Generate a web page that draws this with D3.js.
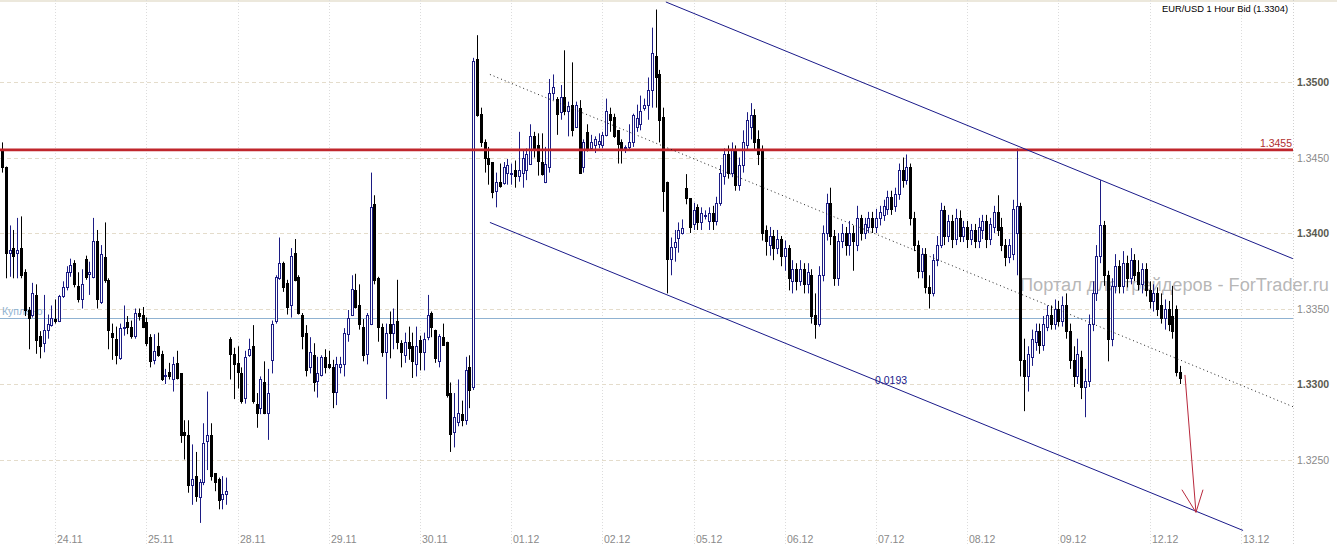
<!DOCTYPE html>
<html><head><meta charset="utf-8">
<script src="https://cdn.jsdelivr.net/npm/d3@7"></script>
<style>body{margin:0;background:#fff}svg{display:block}</style>
</head><body>
<svg id="c" width="1337" height="546"></svg>
<script>
// ---- data ----
const title = "EUR/USD 1 Hour Bid (1.3304)";
const dayLabels = ["24.11","25.11","28.11","29.11","30.11","01.12","02.12","05.12","06.12","07.12","08.12","09.12","12.12","13.12"];
const firstDayStart = 14;      // bar index where 24.11 begins
const barsPerDay = 24;
const priceTicks = [1.3250,1.3300,1.3350,1.3400,1.3450,1.3500];
const majorTicks = [1.3300,1.3400,1.3500];
const resistance = 1.3455;
const bought = 1.3344;
const boughtLabel = "Куплено";
const channelUpper = [[174.7,1.3553],[339.7,1.3383]];
const channelLower = [[128.4,1.3407],[326.6,1.3203]];
const channelMid   = [[128.4,1.3505],[339.7,1.3285]];
const channelWidthLabel = "0.0193";
const arrowLine = [[311.3,1.3306],[314.2,1.3215]];
const arrowHeadL = [[310.5,1.3230],[314.2,1.3215]];
const arrowHeadR = [[316.05,1.3230],[314.2,1.3215]];
const watermark = "Портал для трейдеров - ForTrader.ru";
// [open, high, low, close]
const ohlc = [
[1.3455,1.3460,1.3440,1.3444],[1.3444,1.3444,1.3370,1.3387],[1.3387,1.3405,1.3371,1.3389],[1.3390,1.3402,1.3370,1.3385],
[1.3387,1.3410,1.3370,1.3389],[1.3390,1.3411,1.3370,1.3372],[1.3374,1.3376,1.3345,1.3349],[1.3349,1.3351,1.3323,1.3344],
[1.3346,1.3367,1.3344,1.3360],[1.3359,1.3366,1.3320,1.3329],[1.3332,1.3335,1.3317,1.3325],[1.3327,1.3359,1.3321,1.3336],
[1.3336,1.3346,1.3330,1.3340],[1.3339,1.3352,1.3338,1.3344],[1.3343,1.3356,1.3340,1.3342],[1.3342,1.3359,1.3341,1.3358],
[1.3358,1.3368,1.3357,1.3364],[1.3364,1.3378,1.3362,1.3374],[1.3374,1.3383,1.3371,1.3379],[1.3380,1.3382,1.3364,1.3366],
[1.3365,1.3374,1.3354,1.3356],[1.3356,1.3376,1.3350,1.3366],[1.3383,1.3385,1.3369,1.3371],[1.3373,1.3381,1.3359,1.3374],
[1.3371,1.3410,1.3370,1.3395],[1.3395,1.3402,1.3350,1.3356],[1.3354,1.3392,1.3353,1.3386],[1.3384,1.3407,1.3367,1.3369],
[1.3369,1.3370,1.3323,1.3336],[1.3334,1.3340,1.3316,1.3331],[1.3330,1.3338,1.3313,1.3319],[1.3317,1.3340,1.3316,1.3337],
[1.3337,1.3352,1.3332,1.3338],[1.3341,1.3345,1.3333,1.3338],[1.3338,1.3342,1.3330,1.3332],[1.3332,1.3350,1.3330,1.3347],
[1.3347,1.3350,1.3342,1.3345],[1.3346,1.3351,1.3337,1.3338],[1.3341,1.3344,1.3325,1.3327],[1.3331,1.3333,1.3311,1.3315],
[1.3316,1.3333,1.3313,1.3322],[1.3325,1.3334,1.3318,1.3319],[1.3320,1.3322,1.3302,1.3303],[1.3306,1.3310,1.3300,1.3306],
[1.3308,1.3314,1.3303,1.3305],[1.3303,1.3318,1.3295,1.3313],[1.3314,1.3322,1.3303,1.3304],[1.3307,1.3307,1.3261,1.3266],
[1.3268,1.3276,1.3250,1.3266],[1.3266,1.3276,1.3228,1.3233],[1.3233,1.3260,1.3220,1.3237],[1.3239,1.3255,1.3222,1.3226],
[1.3225,1.3237,1.3208,1.3235],[1.3235,1.3274,1.3233,1.3261],[1.3262,1.3295,1.3243,1.3266],[1.3266,1.3274,1.3236,1.3239],
[1.3241,1.3241,1.3229,1.3235],[1.3237,1.3238,1.3217,1.3223],[1.3224,1.3239,1.3217,1.3227],[1.3227,1.3238,1.3220,1.3229],
[1.3330,1.3331,1.3303,1.3320],[1.3320,1.3324,1.3290,1.3313],[1.3314,1.3325,1.3297,1.3308],[1.3307,1.3311,1.3287,1.3289],
[1.3291,1.3322,1.3287,1.3318],[1.3319,1.3330,1.3318,1.3323],[1.3325,1.3339,1.3287,1.3289],[1.3287,1.3294,1.3271,1.3281],
[1.3284,1.3305,1.3280,1.3303],[1.3301,1.3315,1.3280,1.3281],[1.3281,1.3310,1.3263,1.3294],[1.3316,1.3342,1.3307,1.3340],
[1.3342,1.3372,1.3340,1.3371],[1.3370,1.3397,1.3369,1.3380],[1.3380,1.3381,1.3361,1.3364],[1.3367,1.3369,1.3346,1.3351],
[1.3352,1.3390,1.3344,1.3385],[1.3387,1.3396,1.3368,1.3369],[1.3371,1.3372,1.3346,1.3347],[1.3346,1.3347,1.3323,1.3332],
[1.3334,1.3339,1.3305,1.3309],[1.3311,1.3331,1.3307,1.3321],[1.3319,1.3327,1.3295,1.3301],[1.3302,1.3318,1.3291,1.3307],
[1.3306,1.3319,1.3305,1.3318],[1.3318,1.3323,1.3307,1.3311],[1.3313,1.3322,1.3310,1.3311],[1.3311,1.3316,1.3284,1.3295],
[1.3295,1.3318,1.3286,1.3313],[1.3311,1.3318,1.3307,1.3313],[1.3313,1.3337,1.3305,1.3334],[1.3333,1.3349,1.3328,1.3344],
[1.3346,1.3372,1.3345,1.3363],[1.3362,1.3373,1.3350,1.3351],[1.3352,1.3366,1.3336,1.3340],[1.3338,1.3343,1.3315,1.3319],
[1.3320,1.3347,1.3313,1.3346],[1.3340,1.3440,1.3339,1.3417],[1.3419,1.3425,1.3366,1.3369],[1.3370,1.3371,1.3328,1.3338],
[1.3338,1.3340,1.3318,1.3321],[1.3321,1.3340,1.3290,1.3334],[1.3340,1.3348,1.3317,1.3334],[1.3334,1.3350,1.3323,1.3340],
[1.3342,1.3369,1.3323,1.3328],[1.3327,1.3329,1.3311,1.3321],[1.3319,1.3334,1.3314,1.3328],[1.3328,1.3338,1.3316,1.3324],
[1.3325,1.3334,1.3304,1.3315],[1.3313,1.3338,1.3305,1.3325],[1.3329,1.3332,1.3309,1.3321],[1.3321,1.3334,1.3309,1.3330],
[1.3331,1.3359,1.3329,1.3346],[1.3347,1.3348,1.3331,1.3338],[1.3336,1.3336,1.3314,1.3317],[1.3315,1.3333,1.3311,1.3332],
[1.3331,1.3340,1.3326,1.3326],[1.3328,1.3328,1.3291,1.3293],[1.3294,1.3301,1.3255,1.3267],[1.3268,1.3294,1.3258,1.3278],
[1.3275,1.3303,1.3272,1.3281],[1.3280,1.3289,1.3272,1.3276],[1.3276,1.3318,1.3273,1.3309],[1.3311,1.3319,1.3284,1.3296],
[1.3298,1.3516,1.3296,1.3514],[1.3515,1.3531,1.3477,1.3478],[1.3479,1.3483,1.3457,1.3460],[1.3460,1.3462,1.3440,1.3450],
[1.3450,1.3457,1.3432,1.3446],[1.3447,1.3447,1.3423,1.3427],[1.3428,1.3440,1.3417,1.3434],[1.3434,1.3446,1.3430,1.3431],
[1.3433,1.3447,1.3432,1.3444],[1.3440,1.3449,1.3432,1.3445],[1.3440,1.3446,1.3432,1.3440],[1.3442,1.3448,1.3430,1.3438],
[1.3438,1.3467,1.3434,1.3442],[1.3440,1.3455,1.3430,1.3450],[1.3442,1.3456,1.3435,1.3452],[1.3446,1.3472,1.3446,1.3464],
[1.3464,1.3467,1.3450,1.3456],[1.3458,1.3466,1.3438,1.3448],[1.3447,1.3466,1.3438,1.3439],[1.3434,1.3457,1.3433,1.3446],
[1.3444,1.3502,1.3440,1.3493],[1.3493,1.3505,1.3488,1.3497],[1.3489,1.3490,1.3465,1.3479],[1.3480,1.3498,1.3475,1.3490],
[1.3490,1.3521,1.3478,1.3481],[1.3481,1.3487,1.3464,1.3484],[1.3485,1.3513,1.3464,1.3468],[1.3470,1.3487,1.3470,1.3485],
[1.3483,1.3488,1.3440,1.3440],[1.3444,1.3462,1.3440,1.3460],[1.3467,1.3472,1.3454,1.3456],[1.3456,1.3465,1.3455,1.3460],
[1.3458,1.3464,1.3453,1.3462],[1.3459,1.3466,1.3456,1.3461],[1.3458,1.3467,1.3456,1.3465],[1.3465,1.3489,1.3464,1.3481],
[1.3479,1.3483,1.3467,1.3475],[1.3477,1.3479,1.3463,1.3464],[1.3468,1.3468,1.3446,1.3459],[1.3460,1.3462,1.3446,1.3456],
[1.3456,1.3458,1.3453,1.3457],[1.3457,1.3472,1.3455,1.3460],[1.3460,1.3479,1.3457,1.3478],[1.3470,1.3485,1.3467,1.3476],
[1.3472,1.3491,1.3468,1.3481],[1.3483,1.3489,1.3481,1.3485],[1.3485,1.3503,1.3475,1.3495],[1.3495,1.3536,1.3483,1.3519],
[1.3517,1.3548,1.3483,1.3503],[1.3505,1.3508,1.3460,1.3475],[1.3477,1.3483,1.3414,1.3428],[1.3434,1.3434,1.3360,1.3383],
[1.3383,1.3397,1.3372,1.3391],[1.3391,1.3402,1.3381,1.3394],[1.3397,1.3407,1.3387,1.3402],[1.3400,1.3409,1.3399,1.3403],
[1.3430,1.3439,1.3419,1.3423],[1.3423,1.3423,1.3400,1.3404],[1.3406,1.3420,1.3402,1.3415],[1.3417,1.3419,1.3402,1.3407],
[1.3407,1.3417,1.3402,1.3413],[1.3411,1.3415,1.3409,1.3412],[1.3408,1.3417,1.3402,1.3413],[1.3413,1.3418,1.3402,1.3408],
[1.3408,1.3424,1.3405,1.3420],[1.3420,1.3445,1.3418,1.3440],[1.3438,1.3456,1.3432,1.3452],[1.3452,1.3458,1.3436,1.3440],
[1.3440,1.3460,1.3437,1.3455],[1.3455,1.3458,1.3428,1.3432],[1.3432,1.3450,1.3428,1.3445],[1.3445,1.3468,1.3440,1.3460],
[1.3458,1.3480,1.3455,1.3475],[1.3470,1.3486,1.3462,1.3478],[1.3478,1.3482,1.3455,1.3460],[1.3462,1.3468,1.3445,1.3452],
[1.3455,1.3458,1.3395,1.3400],[1.3402,1.3405,1.3385,1.3395],[1.3392,1.3404,1.3385,1.3398],[1.3398,1.3402,1.3382,1.3390],
[1.3390,1.3402,1.3386,1.3396],[1.3396,1.3398,1.3378,1.3385],[1.3385,1.3395,1.3375,1.3390],[1.3390,1.3392,1.3362,1.3370],
[1.3368,1.3382,1.3360,1.3376],[1.3376,1.3380,1.3362,1.3368],[1.3368,1.3382,1.3365,1.3376],[1.3376,1.3380,1.3360,1.3366],
[1.3366,1.3380,1.3360,1.3374],[1.3372,1.3376,1.3340,1.3345],[1.3346,1.3360,1.3330,1.3340],[1.3340,1.3378,1.3338,1.3372],
[1.3372,1.3405,1.3368,1.3400],[1.3400,1.3426,1.3395,1.3420],[1.3420,1.3430,1.3392,1.3398],[1.3398,1.3402,1.3365,1.3370],
[1.3370,1.3400,1.3365,1.3395],[1.3395,1.3406,1.3390,1.3400],[1.3400,1.3404,1.3385,1.3392],[1.3392,1.3408,1.3385,1.3400],
[1.3400,1.3405,1.3375,1.3395],[1.3392,1.3418,1.3388,1.3410],[1.3410,1.3412,1.3395,1.3400],[1.3400,1.3410,1.3396,1.3406],
[1.3404,1.3414,1.3400,1.3410],[1.3410,1.3414,1.3400,1.3404],[1.3404,1.3416,1.3400,1.3410],[1.3410,1.3418,1.3405,1.3414],
[1.3412,1.3422,1.3408,1.3418],[1.3416,1.3428,1.3412,1.3424],[1.3424,1.3428,1.3412,1.3416],[1.3418,1.3430,1.3414,1.3426],
[1.3426,1.3446,1.3422,1.3442],[1.3442,1.3450,1.3430,1.3435],[1.3435,1.3452,1.3432,1.3444],[1.3444,1.3446,1.3405,1.3410],
[1.3410,1.3414,1.3388,1.3392],[1.3392,1.3395,1.3370,1.3375],[1.3375,1.3390,1.3370,1.3386],[1.3386,1.3390,1.3360,1.3364],
[1.3364,1.3372,1.3350,1.3360],[1.3360,1.3386,1.3358,1.3382],[1.3382,1.3398,1.3378,1.3392],[1.3392,1.3420,1.3390,1.3415],
[1.3415,1.3418,1.3392,1.3398],[1.3398,1.3412,1.3394,1.3408],[1.3408,1.3412,1.3390,1.3396],[1.3396,1.3416,1.3392,1.3410],
[1.3410,1.3415,1.3394,1.3398],[1.3398,1.3408,1.3394,1.3404],[1.3404,1.3408,1.3390,1.3396],[1.3396,1.3406,1.3392,1.3402],
[1.3402,1.3406,1.3390,1.3395],[1.3395,1.3410,1.3390,1.3404],[1.3402,1.3412,1.3396,1.3408],[1.3408,1.3412,1.3390,1.3396],
[1.3396,1.3410,1.3392,1.3406],[1.3404,1.3418,1.3400,1.3414],[1.3414,1.3425,1.3398,1.3402],[1.3404,1.3410,1.3388,1.3392],
[1.3392,1.3396,1.3378,1.3384],[1.3384,1.3396,1.3380,1.3392],[1.3386,1.3422,1.3382,1.3416],[1.3400,1.3456,1.3372,1.3418],
[1.3418,1.3420,1.3305,1.3316],[1.3316,1.3330,1.3282,1.3305],[1.3305,1.3325,1.3295,1.3320],[1.3318,1.3336,1.3312,1.3330],
[1.3328,1.3340,1.3322,1.3335],[1.3335,1.3340,1.3320,1.3326],[1.3326,1.3345,1.3322,1.3340],[1.3338,1.3352,1.3335,1.3346],
[1.3346,1.3352,1.3336,1.3340],[1.3340,1.3356,1.3336,1.3350],[1.3350,1.3355,1.3338,1.3342],[1.3342,1.3358,1.3338,1.3352],
[1.3352,1.3360,1.3330,1.3335],[1.3335,1.3340,1.3310,1.3316],[1.3316,1.3325,1.3298,1.3305],[1.3305,1.3330,1.3300,1.3320],
[1.3318,1.3322,1.3290,1.3298],[1.3298,1.3310,1.3278,1.3302],[1.3302,1.3346,1.3298,1.3340],[1.3340,1.3368,1.3335,1.3360],
[1.3360,1.3392,1.3355,1.3385],[1.3385,1.3435,1.3380,1.3405],[1.3405,1.3408,1.3365,1.3372],[1.3372,1.3375,1.3315,1.3330],
[1.3330,1.3370,1.3325,1.3365],[1.3365,1.3386,1.3360,1.3378],[1.3378,1.3382,1.3360,1.3365],[1.3365,1.3388,1.3360,1.3380],
[1.3380,1.3385,1.3364,1.3370],[1.3370,1.3390,1.3366,1.3382],[1.3382,1.3386,1.3368,1.3372],[1.3374,1.3382,1.3362,1.3366],
[1.3366,1.3380,1.3360,1.3376],[1.3376,1.3380,1.3358,1.3362],[1.3362,1.3368,1.3350,1.3355],[1.3355,1.3366,1.3348,1.3360],
[1.3360,1.3364,1.3345,1.3350],[1.3352,1.3360,1.3340,1.3344],[1.3344,1.3356,1.3336,1.3350],[1.3350,1.3355,1.3335,1.3340],
[1.3345,1.3365,1.3330,1.3335],[1.3350,1.3352,1.3305,1.3308],[1.3308,1.3312,1.3300,1.3304]
];

// ---- chart ----
const W = 1337, H = 546, plotRight = 1293;
const svg = d3.select("#c");
const x = d3.scaleLinear().domain([0, 340]).range([2, 2 + 3.8 * 340]);
const y = d3.scaleLinear().domain([1.3200, 1.3500]).range([535, 82]);
const font = "Liberation Sans, Arial, sans-serif";

svg.append("rect").attr("width", W).attr("height", H).attr("fill", "#fff");
svg.append("rect").attr("x",0).attr("y",0).attr("width",W).attr("height",2).attr("fill","#ece8dc");

// vertical day separators
const days = dayLabels.map((d, k) => ({label: d, idx: firstDayStart + k * barsPerDay}));
svg.append("g").selectAll("line").data(days).join("line")
  .attr("x1", d => Math.round(x(d.idx)) + 0.5).attr("x2", d => Math.round(x(d.idx)) + 0.5)
  .attr("y1", 0).attr("y2", H)
  .attr("stroke", "#dcdcdc").attr("stroke-dasharray", "1,2");
// right border
svg.append("line").attr("x1", plotRight + 0.5).attr("x2", plotRight + 0.5).attr("y1", 0).attr("y2", H)
  .attr("stroke", "#d0d0d0").attr("stroke-dasharray", "1,2");
// horizontal grid
svg.append("g").selectAll("line").data(priceTicks).join("line")
  .attr("x1", 0).attr("x2", plotRight)
  .attr("y1", d => Math.round(y(d)) + 0.5).attr("y2", d => Math.round(y(d)) + 0.5)
  .attr("stroke", "#e4dccb").attr("stroke-dasharray", "4,3");

// y labels
svg.append("g").selectAll("text").data(priceTicks).join("text")
  .attr("x", plotRight + 4).attr("y", d => y(d) + 4)
  .attr("font-family", font).attr("font-size", 10.5)
  .attr("font-weight", d => majorTicks.includes(d) ? "bold" : "normal")
  .attr("fill", d => majorTicks.includes(d) ? "#5a5a50" : "#8a8a8a")
  .text(d => d.toFixed(4));

// x labels
svg.append("g").selectAll("text").data(days).join("text")
  .attr("x", d => Math.round(x(d.idx)) + 2).attr("y", 543)
  .attr("font-family", font).attr("font-size", 10.5)
  .attr("fill", "#8a8a8a").text(d => d.label);

// bought line
svg.append("line").attr("x1", 0).attr("x2", plotRight)
  .attr("y1", Math.round(y(bought)) + 0.5).attr("y2", Math.round(y(bought)) + 0.5)
  .attr("stroke", "#8fb2d2").attr("stroke-width", 1);
svg.append("text").attr("x", 2).attr("y", y(bought) - 3)
  .attr("font-family", font).attr("font-size", 10.5)
  .attr("fill", "#8fb2d2").text(boughtLabel);

// watermark
svg.append("text").attr("x", 1020).attr("y", 291)
  .attr("font-family", font).attr("font-size", 18)
  .attr("textLength", 309).attr("lengthAdjust", "spacingAndGlyphs")
  .attr("fill", "#aaaaaa").attr("fill-opacity", 0.85).text(watermark);

// candles
const g = svg.append("g");
ohlc.forEach((b, i) => {
  const [o, h, l, c] = b;
  const cx = Math.round(x(i));
  const bull = c >= o;
  const col = bull ? "#1c1c84" : "#000";
  g.append("line").attr("x1", cx + 0.5).attr("x2", cx + 0.5)
    .attr("y1", y(h)).attr("y2", y(l)).attr("stroke", col).attr("stroke-width", 1);
  const top = Math.round(y(Math.max(o, c))), bot = Math.round(y(Math.min(o, c)));
  if (bull) {
    g.append("rect").attr("x", cx - 0.5).attr("y", top + 0.5)
      .attr("width", 2).attr("height", Math.max(bot - top, 1))
      .attr("fill", "#fff").attr("stroke", col).attr("stroke-width", 1);
  } else {
    g.append("rect").attr("x", cx - 1).attr("y", top)
      .attr("width", 3).attr("height", Math.max(bot - top, 1) + 1).attr("fill", "#000");
  }
});

// resistance line
svg.append("line").attr("x1", 0).attr("x2", plotRight)
  .attr("y1", y(resistance)).attr("y2", y(resistance))
  .attr("stroke", "#c0262c").attr("stroke-width", 2.8);
svg.append("text").attr("x", plotRight - 1).attr("y", y(resistance) - 3)
  .attr("text-anchor", "end")
  .attr("font-family", font).attr("font-size", 10.5)
  .attr("fill", "#b03030").text(resistance.toFixed(4));

// channel
const line = d3.line().x(d => x(d[0])).y(d => y(d[1]));
svg.append("path").attr("d", line(channelUpper)).attr("fill", "none").attr("stroke", "#1a1a8a").attr("stroke-width", 1);
svg.append("path").attr("d", line(channelLower)).attr("fill", "none").attr("stroke", "#1a1a8a").attr("stroke-width", 1);
svg.append("path").attr("d", line(channelMid)).attr("fill", "none").attr("stroke", "#222").attr("stroke-width", 1).attr("stroke-dasharray", "1,3");
svg.append("text").attr("x", 875).attr("y", 384)
  .attr("font-family", font).attr("font-size", 10.5)
  .attr("fill", "#1a1a8a").text(channelWidthLabel);

// arrow
[arrowLine, arrowHeadL, arrowHeadR].forEach(seg =>
  svg.append("path").attr("d", line(seg)).attr("fill", "none").attr("stroke", "#b8283c").attr("stroke-width", 1));

// title
svg.append("text").attr("x", 1288).attr("y", 12).attr("text-anchor", "end")
  .attr("font-family", font).attr("font-size", 9.6)
  .attr("textLength", 126).attr("lengthAdjust", "spacingAndGlyphs")
  .attr("fill", "#000").text(title);
</script>
</body></html>
